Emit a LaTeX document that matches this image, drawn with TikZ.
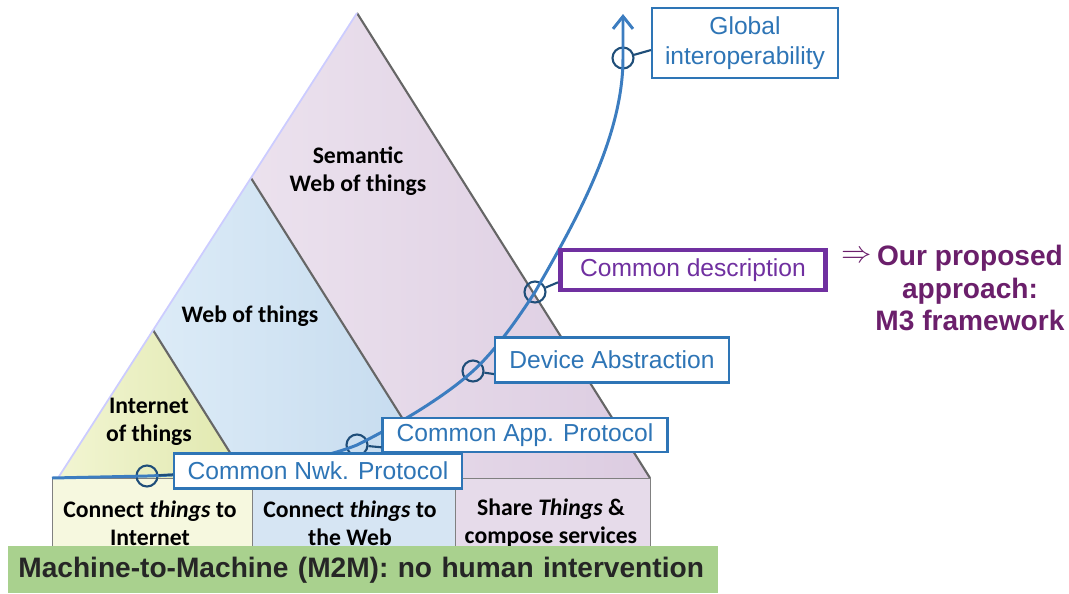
\documentclass[tikz,border=0pt]{standalone}
\usepackage{fontspec}
\setmainfont{Liberation Sans}
\newfontfamily\calibri{Carlito}
\usetikzlibrary{arrows.meta}
\definecolor{lblue}{HTML}{2E75B6}
\definecolor{dblue}{HTML}{1F4E79}
\definecolor{cblue}{HTML}{3C7DC0}
\definecolor{cpurple}{HTML}{7030A0}
\definecolor{mpurple}{HTML}{6B1F6B}
\definecolor{mgreen}{HTML}{A9D18E}
\definecolor{semL}{HTML}{F3ECF4}
\definecolor{semR}{HTML}{DCCCE1}
\definecolor{webL}{HTML}{E4F1FA}
\definecolor{webR}{HTML}{C4DAEE}
\definecolor{intL}{HTML}{F2F5D2}
\definecolor{intR}{HTML}{E0E8AE}
\begin{document}
\begin{tikzpicture}[x=0.02cm,y=-0.02cm,
  lbl/.style={draw=lblue,line width=1.2pt,text=lblue,fill=white,font=\fontsize{14}{17}\selectfont,inner sep=0pt},
  ring/.style={circle,draw=dblue,line width=1.2pt,minimum size=0.42cm,inner sep=0pt},
  tick/.style={dblue,line width=1.2pt},
  tri/.style={font=\calibri\bfseries\fontsize{13.5}{16}\selectfont,align=center},
  rim/.style={black!60,line width=1.2pt}]
\useasboundingbox (0,0) rectangle (1069,593);
% pyramid
\shade[left color=semL,right color=semR] (357,13)--(650,478)--(58,478)--cycle;
\shade[left color=webL,right color=webR] (251,178)--(440,478)--(58,478)--cycle;
\shade[left color=intL,right color=intR] (153,330)--(246,478)--(58,478)--cycle;
\draw[rim] (357,13)--(650,478);
\draw[rim] (251,178)--(440,478);
\draw[rim] (153,330)--(246,478);
\draw[blue!20,line width=1pt] (357,13)--(58,478);
% base boxes
\draw[black!50,fill=intL!70] (52,478) rectangle (252,560);
\draw[black!50,fill=webR!70] (252,478) rectangle (455,560);
\draw[black!50,fill=semR!70] (455,478) rectangle (650,560);
\node[tri] (tsem) at (358,171) {Semantic\\Web of things};
\node[tri] (tweb) at (250,316) {Web of things};
\node[tri] (tint) at (149,422) {Internet\\of things};
\node[tri] (bint) at (150,523) {Connect \textit{things} to\\Internet};
\node[tri] (bweb) at (350,523) {Connect \textit{things} to\\the Web};
\node[tri] (bsha) at (551,523) {Share \textit{Things} \&\\compose services};
% steps on the curve
\node[ring] (r1) at (147,476) {};
\node[ring] (r2) at (357,445) {};
\node[ring] (r3) at (473,371) {};
\node[ring] (r4) at (535,292) {};
\node[ring] (r5) at (623,58) {};
\draw[cblue,line width=1.7pt,-{Straight Barb[length=2.5mm,width=4mm]}] (52,478) -- (r1.center)
  .. controls (210,474) and (302,467) .. (r2.center)
  .. controls (397,425) and (443,398) .. (r3.center)
  .. controls (495,351) and (517,320) .. (r4.center)
  .. controls (575,222) and (623,138) .. (r5.center) -- (623,14);
\node[lbl,minimum width=5.7cm,minimum height=0.68cm] (ap) at (525,435) {Common App. Protocol};
\node[lbl,minimum width=5.76cm,minimum height=0.7cm] (np) at (318,471) {Common Nwk. Protocol};
\node[lbl,minimum width=4.68cm,minimum height=0.9cm] (da) at (612,360) {Device Abstraction};
\node[lbl,draw=cpurple,text=cpurple,line width=2.8pt,minimum width=5.3cm,minimum height=0.8cm] (cd) at (693,270) {Common description};
\node[lbl,minimum width=3.72cm,minimum height=1.4cm,align=center] (gi) at (745,43) {Global\\interoperability};
\draw[tick] (r1)--([yshift=-2pt]np.west);
\draw[tick] (r2)--([yshift=-7pt]ap.west);
\draw[tick] (r3)--([yshift=-8pt]da.west);
\draw[tick] (r4)--([yshift=-7pt]cd.west);
\draw[tick] (r5)--([yshift=-4pt]gi.west);
% our approach
\node[text=mpurple,font=\fontsize{16}{18}\selectfont] (imp) at (857,257) {$\Rightarrow$};
\node[text=mpurple,font=\bfseries\fontsize{16}{18.7}\selectfont,align=center] (m3) at (970,288) {Our proposed\\approach:\\M3 framework};
% M2M bar
\node[fill=mgreen,anchor=north west,minimum height=0.94cm,text width=13.8cm,inner xsep=0.2cm,font=\bfseries\fontsize{16}{18}\selectfont,text=black!85] (m2m) at (8,546) {Machine-to-Machine (M2M): no human intervention};
\end{tikzpicture}
\end{document}
